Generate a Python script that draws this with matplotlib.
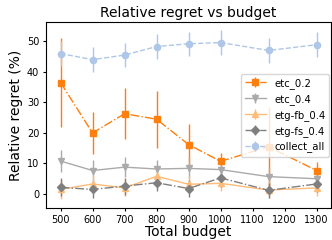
import matplotlib
matplotlib.use("Agg")
import matplotlib.pyplot as plt

budgets = [500, 600, 700, 800, 900, 1000, 1150, 1300]

etc_02 = [36.5, 20.0, 26.3, 24.5, 16.2, 10.7, 15.5, 7.7]
etc_02_err = [14.5, 6.8, 8.4, 9.3, 6.8, 2.8, 13.0, 2.7]

etc_04 = [10.8, 7.7, 8.8, 8.2, 8.4, 8.0, 5.7, 5.0]
etc_04_err = [3.7, 3.5, 3.2, 3.0, 3.5, 3.0, 3.0, 2.5]

etg_fb_04 = [1.5, 3.3, 2.0, 5.8, 3.2, 3.5, 1.3, 2.0]
etg_fb_04_err = [3.0, 3.0, 2.8, 3.0, 2.8, 2.5, 2.5, 2.5]

etg_fs_04 = [2.2, 1.5, 2.6, 3.7, 1.8, 5.3, 1.2, 3.3]
etg_fs_04_err = [3.0, 2.8, 2.8, 2.8, 2.8, 3.0, 2.5, 2.5]

collect_all = [46.0, 44.0, 45.5, 48.3, 49.2, 49.6, 47.0, 48.9]
collect_all_err = [4.0, 4.0, 4.0, 4.0, 4.0, 4.0, 4.0, 4.0]

series = [
    ("etc_0.2", etc_02, etc_02_err, "#ff7f0e", "s", "-."),
    ("etc_0.4", etc_04, etc_04_err, "#aaaaaa", "v", "-"),
    ("etg-fb_0.4", etg_fb_04, etg_fb_04_err, "#ffbb78", "^", "-"),
    ("etg-fs_0.4", etg_fs_04, etg_fs_04_err, "#7f7f7f", "D", "-."),
    ("collect_all", collect_all, collect_all_err, "#aec7e8", "o", "--"),
]

fig = plt.figure(figsize=(3.32, 2.4), dpi=100)
ax = fig.add_axes([0.139, 0.133, 0.858, 0.775])

for name, vals, errs, col, mk, ls in series:
    ax.errorbar(budgets, vals, yerr=errs, color=col, marker=mk, linestyle=ls,
                markersize=4.5 if mk != "D" else 4, linewidth=1.0, elinewidth=1.0,
                label=name)

ax.set_xlim(455, 1345)
ax.set_ylim(-4.6, 56.3)
ax.set_xticks([500, 600, 700, 800, 900, 1000, 1100, 1200, 1300])
ax.set_yticks([0, 10, 20, 30, 40, 50])
ax.tick_params(labelsize=7, length=2.5, pad=2.5)
ax.set_xlabel("Total budget", fontsize=10, labelpad=0)
ax.set_ylabel("Relative regret (%)", fontsize=10, labelpad=3)
ax.set_title("Relative regret vs budget", fontsize=10, pad=4)
ax.legend(loc="center right", bbox_to_anchor=(1.0, 0.5), fontsize=7.3,
          handlelength=2.1, borderpad=0.4, borderaxespad=0.15)

fig.savefig("out.png", dpi=100)
